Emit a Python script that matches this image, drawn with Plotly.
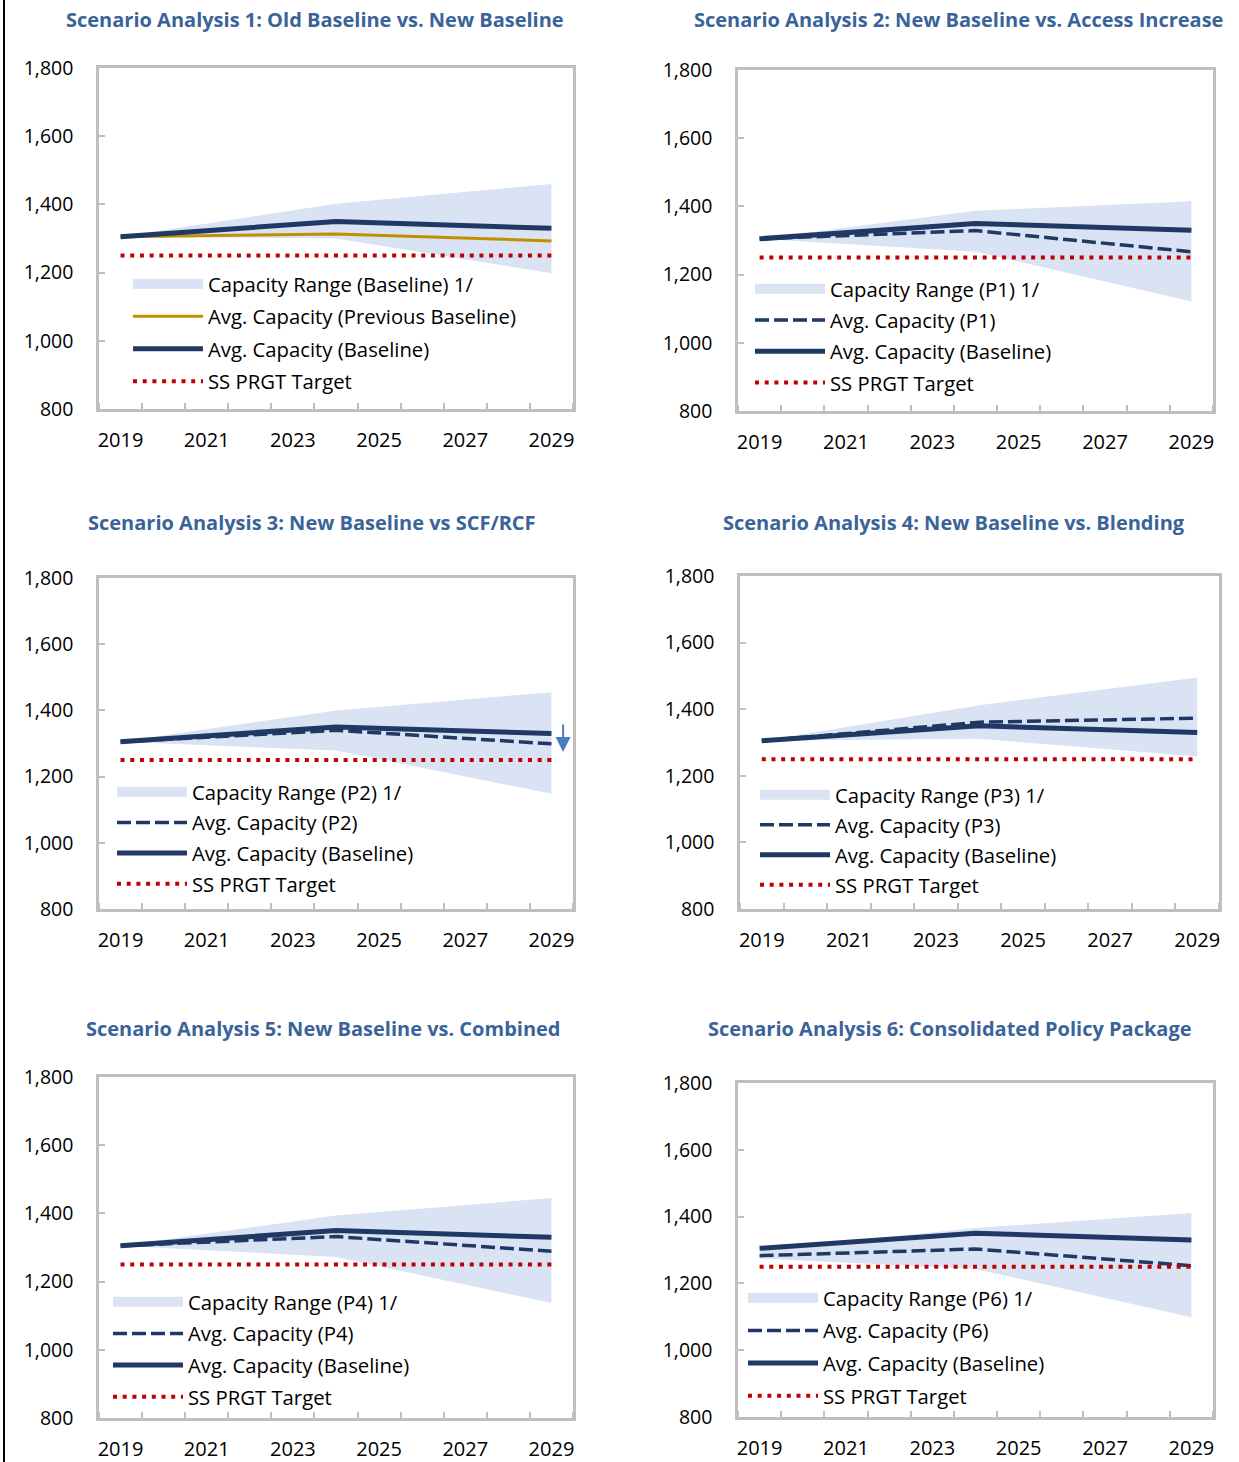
import plotly.graph_objects as go

W, H = 1239, 1462

# ---------------- data ----------------
years = [2019, 2020, 2021, 2022, 2023, 2024, 2025, 2026, 2027, 2028, 2029]
N = None
target = [1250] * 11

baseline = [1305, N, N, N, N, 1350, N, N, N, N, 1330]

# Panel 1
prev_baseline = [1305, N, N, N, N, 1313, N, N, N, N, 1293]
range1_low = [1305, N, N, N, N, 1300, N, N, N, N, 1198]
range1_high = [1305, N, N, N, N, 1402, N, N, N, N, 1460]
# Panel 2 (P1)
p1 = [1305, N, N, N, N, 1329, N, N, N, N, 1267]
range2_low = [1305, N, N, N, N, 1267, N, N, N, N, 1121]
range2_high = [1305, N, N, N, N, 1387, N, N, N, N, 1415]
# Panel 3 (P2)
p2 = [1305, N, N, N, N, 1340, N, N, N, N, 1299]
range3_low = [1305, N, N, N, N, 1279, N, N, N, N, 1148]
range3_high = [1305, N, N, N, N, 1400, N, N, N, N, 1455]
# Panel 4 (P3)
p3 = [1305, N, N, N, N, 1361, N, N, N, N, 1373]
range4_low = [1305, N, N, N, N, 1311, N, N, N, N, 1258]
range4_high = [1305, N, N, N, N, 1412, N, N, N, N, 1495]
# Panel 5 (P4)
p4 = [1305, N, N, N, N, 1332, N, N, N, N, 1289]
range5_low = [1305, N, N, N, N, 1272, N, N, N, N, 1137]
range5_high = [1305, N, N, N, N, 1394, N, N, N, N, 1445]
# Panel 6 (P6)
p6 = [1283, N, N, N, N, 1303, N, N, N, N, 1253]
range6_low = [1275, N, N, N, N, 1243, N, N, N, N, 1099]
range6_high = [1300, N, N, N, N, 1366, N, N, N, N, 1411]

titles = [
    "Scenario Analysis 1: Old Baseline vs. New Baseline",
    "Scenario Analysis 2: New Baseline vs. Access Increase",
    "Scenario Analysis 3: New Baseline vs SCF/RCF",
    "Scenario Analysis 4: New Baseline vs. Blending",
    "Scenario Analysis 5: New Baseline vs. Combined",
    "Scenario Analysis 6: Consolidated Policy Package",
]
range_names = ["Capacity Range (Baseline) 1/", "Capacity Range (P1) 1/", "Capacity Range (P2) 1/",
               "Capacity Range (P3) 1/", "Capacity Range (P4) 1/", "Capacity Range (P6) 1/"]
alt_names = ["Avg. Capacity (Previous Baseline)", "Avg. Capacity (P1)", "Avg. Capacity (P2)",
             "Avg. Capacity (P3)", "Avg. Capacity (P4)", "Avg. Capacity (P6)"]
alt_series = [prev_baseline, p1, p2, p3, p4, p6]
range_low = [range1_low, range2_low, range3_low, range4_low, range5_low, range6_low]
range_high = [range1_high, range2_high, range3_high, range4_high, range5_high, range6_high]

# ---------------- styling ----------------
NAVY = "#1F3864"
GOLD = "#BF9000"
RED = "#C00000"
FILL = "#DAE3F3"
BORDER = "#BFBFBF"
TITLE = "#3A6399"
FONT = "Open Sans, Segoe UI, sans-serif"

# plot boxes in pixels: (x0, x1, y0, y1)
boxes = [
    (99, 573, 68, 409),
    (738, 1213, 70, 411),
    (99, 573, 578, 909),
    (740, 1219, 576, 909),
    (99, 573, 1077, 1418),
    (738, 1213, 1083, 1417),
]
# legend: symbol left px, first entry centre px, row spacing px
legends = [
    (133, 285, 32.5),
    (755, 290, 31.3),
    (117, 793, 30.7),
    (760, 796, 30.0),
    (113, 1303, 31.7),
    (748, 1299, 32.7),
]
title_pos = [(315, 20), (958, 20), (312, 522), (954, 522), (323, 1028), (950, 1028)]

LEG_FS = 20.3


def px_x(p):
    return p / W


def px_y(p):
    return 1 - p / H


fig = go.Figure()
layout = {}
annotations = []

for i in range(6):
    k = i + 1
    xa = "x" if k == 1 else f"x{k}"
    ya = "y" if k == 1 else f"y{k}"
    lg = "legend" if k == 1 else f"legend{k}"
    x0, x1, y0, y1 = boxes[i]

    # range band
    fig.add_trace(go.Scatter(x=years, y=range_low[i], mode="lines", line=dict(width=0, color=FILL),
                             connectgaps=True, showlegend=False, hoverinfo="skip",
                             xaxis=xa, yaxis=ya, legend=lg))
    fig.add_trace(go.Scatter(x=years, y=range_high[i], mode="lines", line=dict(width=0, color=FILL),
                             connectgaps=True, fill="tonexty", fillcolor=FILL, showlegend=False,
                             hoverinfo="skip", xaxis=xa, yaxis=ya, legend=lg))
    # legend entry for the band
    fig.add_trace(go.Scatter(x=[None], y=[None], mode="lines", name=range_names[i],
                             line=dict(width=14, color=FILL), legendgroup=f"g{k}a",
                             xaxis=xa, yaxis=ya, legend=lg))
    # comparison series
    if i == 0:
        aline = dict(width=3, color=GOLD)
    else:
        aline = dict(width=3.5, color=NAVY, dash="14px,5px")
    fig.add_trace(go.Scatter(x=years, y=alt_series[i], mode="lines", name=alt_names[i], line=aline,
                             connectgaps=True, legendgroup=f"g{k}b", xaxis=xa, yaxis=ya, legend=lg))
    # baseline
    fig.add_trace(go.Scatter(x=years, y=baseline, mode="lines", name="Avg. Capacity (Baseline)",
                             line=dict(width=5, color=NAVY), connectgaps=True,
                             legendgroup=f"g{k}c", xaxis=xa, yaxis=ya, legend=lg))
    # target
    fig.add_trace(go.Scatter(x=years, y=target, mode="lines", name="SS PRGT Target",
                             line=dict(width=4, color=RED, dash="4px,5.7px"),
                             legendgroup=f"g{k}d", xaxis=xa, yaxis=ya, legend=lg))

    xname = "xaxis" if k == 1 else f"xaxis{k}"
    yname = "yaxis" if k == 1 else f"yaxis{k}"
    layout[xname] = dict(
        domain=[px_x(x0), px_x(x1)], anchor=ya, range=[2018.5, 2029.5], automargin=False,
        tickmode="linear", tick0=2019, dtick=2, ticks="", showgrid=False, zeroline=False,
        showline=True, mirror=True, linecolor=BORDER, linewidth=2.5,
        tickfont=dict(family=FONT, size=20, color="#000000"), ticklabelstandoff=11,
        minor=dict(tick0=2019.5, dtick=1, ticks="inside", ticklen=6, tickwidth=2,
                   tickcolor=BORDER, showgrid=False),
    )
    layout[yname] = dict(
        domain=[px_y(y1), px_y(y0)], anchor=xa, range=[800, 1800], automargin=False,
        tickmode="linear", tick0=800, dtick=200, ticks="inside", ticklen=6, tickwidth=2,
        tickcolor=BORDER, showgrid=False, zeroline=False, tickformat=",",
        showline=True, mirror=True, linecolor=BORDER, linewidth=2.5,
        tickfont=dict(family=FONT, size=19.5, color="#000000"), ticklabelstandoff=19,
    )

    sx, cy, sp = legends[i]
    gap = sp - (1.3 * LEG_FS + 3)
    layout[lg] = dict(
        x=px_x(sx - 5), y=px_y(cy - 21), xanchor="left", yanchor="top",
        bgcolor="rgba(0,0,0,0)", borderwidth=0, itemwidth=70,
        traceorder="grouped", tracegroupgap=gap,
        font=dict(family=FONT, size=LEG_FS, color="#000000"),
    )

    tx, ty = title_pos[i]
    annotations.append(dict(
        text=f"<b>{titles[i]}</b>", x=px_x(tx), y=px_y(ty), xref="paper", yref="paper",
        xanchor="center", yanchor="middle", showarrow=False,
        font=dict(family=FONT, size=20, color=TITLE),
    ))

# downward arrow in panel 3
annotations.append(dict(
    x=2029.27, y=1274, ax=2029.27, ay=1362, xref="x3", yref="y3", axref="x3", ayref="y3",
    showarrow=True, arrowhead=2, arrowsize=1.5, arrowwidth=2, arrowcolor="#4A7EBB", text="",
))

fig.update_layout(
    template="none",
    width=W, height=H, margin=dict(l=0, r=0, t=0, b=0, autoexpand=False),
    paper_bgcolor="white", plot_bgcolor="white",
    font=dict(family=FONT, color="#000000"),
    annotations=annotations,
    shapes=[dict(type="line", xref="paper", yref="paper", x0=px_x(4), x1=px_x(4), y0=0, y1=1,
                 line=dict(color="#000000", width=2))],
    **layout,
)

fig.write_html("out.html", config={"displayModeBar": False},
               post_script="document.body.style.margin='0px';")
